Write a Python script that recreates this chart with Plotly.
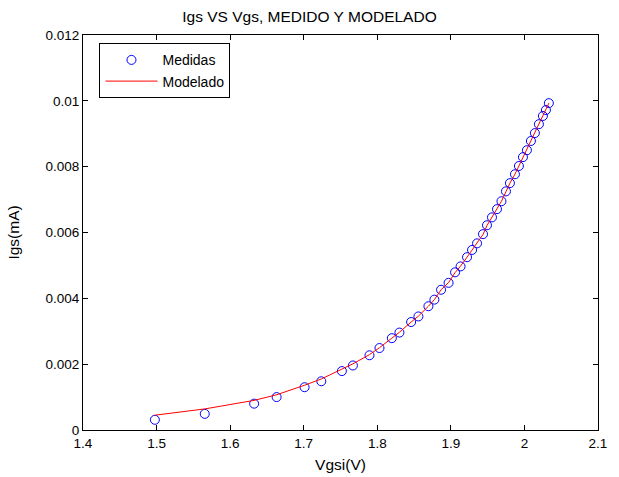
import plotly.graph_objects as go

vgs = [1.4977, 1.5655, 1.6326, 1.6632, 1.7012, 1.7239, 1.7519, 1.7669, 1.7894, 1.8030,
       1.8198, 1.8301, 1.8460, 1.8559, 1.8695, 1.8776, 1.8867, 1.8969, 1.9057, 1.9132,
       1.9220, 1.9288, 1.9356, 1.9437, 1.9491, 1.9559, 1.9627, 1.9688, 1.9749, 1.9803,
       1.9871, 1.9925, 1.9980, 2.0034, 2.0088, 2.0142, 2.0197, 2.0251, 2.0292, 2.0332]

igs_medidas = [0.00031, 0.00049, 0.00080, 0.00100, 0.00130, 0.00148, 0.00179, 0.00196, 0.00227, 0.00249,
               0.00279, 0.00296, 0.00328, 0.00345, 0.00376, 0.00396, 0.00426, 0.00447, 0.00479, 0.00497,
               0.00525, 0.00547, 0.00567, 0.00595, 0.00622, 0.00646, 0.00671, 0.00695, 0.00725, 0.00750,
               0.00777, 0.00802, 0.00829, 0.00850, 0.00878, 0.00902, 0.00929, 0.00954, 0.00972, 0.00993]

igs_modelado = [0.00045, 0.00064, 0.00090, 0.00107, 0.00136, 0.00155, 0.00185, 0.00201, 0.00229, 0.00250,
                0.00279, 0.00297, 0.00328, 0.00346, 0.00376, 0.00396, 0.00426, 0.00448, 0.00478, 0.00498,
                0.00525, 0.00546, 0.00568, 0.00594, 0.00621, 0.00646, 0.00671, 0.00695, 0.00724, 0.00750,
                0.00777, 0.00802, 0.00829, 0.00851, 0.00878, 0.00902, 0.00929, 0.00954, 0.00972, 0.00993]

x_ticks = [1.4, 1.5, 1.6, 1.7, 1.8, 1.9, 2.0, 2.1]
x_tick_labels = ["1.4", "1.5", "1.6", "1.7", "1.8", "1.9", "2", "2.1"]
y_ticks = [0, 0.002, 0.004, 0.006, 0.008, 0.010, 0.012]
y_tick_labels = ["0", "0.002", "0.004", "0.006", "0.008", "0.01", "0.012"]

font = "Liberation Sans, Arial, sans-serif"

fig = go.Figure()
fig.add_trace(go.Scatter(
    x=vgs, y=igs_medidas, mode="markers", name="Medidas",
    marker=dict(symbol="circle-open", size=9, color="#0000ff", line=dict(width=1, color="#0000ff")),
))
fig.add_trace(go.Scatter(
    x=vgs, y=igs_modelado, mode="lines", name="Modelado",
    line=dict(color="#ff0000", width=1),
))

axis_common = dict(
    showgrid=False, zeroline=False, showline=True, linecolor="black", linewidth=1,
    mirror="ticks", ticks="inside", ticklen=5, tickcolor="black", automargin=False,
    tickfont=dict(family=font, size=13.5, color="black"),
)

fig.update_layout(
    width=619, height=477,
    margin=dict(l=83, r=21, t=35, b=47),
    paper_bgcolor="white", plot_bgcolor="white",
    font=dict(family=font, size=13, color="black"),
    title=dict(text="Igs VS Vgs, MEDIDO Y MODELADO", x=0.5, xanchor="center",
               y=1 - 17 / 477, yanchor="middle", font=dict(family=font, size=15.5, color="black")),
    xaxis=dict(range=[1.4, 2.1], tickvals=x_ticks, ticktext=x_tick_labels, ticklabelstandoff=1,
               title=dict(text="Vgsi(V)", standoff=8, font=dict(family=font, size=15.5)), **axis_common),
    yaxis=dict(range=[0, 0.012], tickvals=y_ticks, ticktext=y_tick_labels,
               title=dict(text="Igs(mA)", standoff=22, font=dict(family=font, size=15.5)), **axis_common),
    legend=dict(x=0.032, y=0.979, xanchor="left", yanchor="top",
                bordercolor="black", borderwidth=1, bgcolor="white",
                font=dict(family=font, size=14, color="black"),
                itemwidth=52, tracegroupgap=0),
    showlegend=True,
)

fig.write_html("out.html", config={"displayModeBar": False},
               post_script="document.body.style.margin='0';")
